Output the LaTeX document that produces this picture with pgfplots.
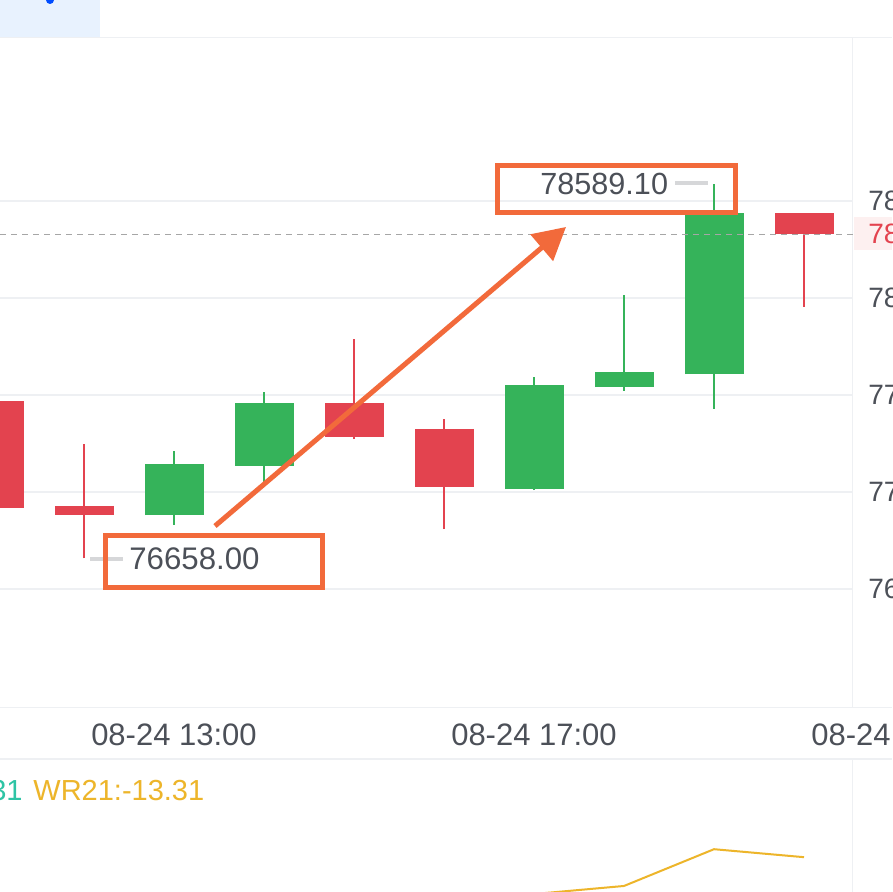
\documentclass[border=0pt]{standalone}
\usepackage{pgfplots}
\pgfplotsset{compat=1.18}
\usetikzlibrary{arrows.meta}
\usepackage{fontspec}
\setmainfont{Liberation Sans}
\definecolor{cr}{HTML}{E3434F}
\definecolor{cg}{HTML}{35B35A}
\definecolor{co}{HTML}{F26A3B}
\definecolor{txt}{HTML}{4C5058}
\definecolor{gridc}{HTML}{EEF0F3}
\definecolor{wry}{HTML}{EDB52A}
\definecolor{cteal}{HTML}{2EC4A5}
\definecolor{tabbg}{HTML}{E8F2FE}
\definecolor{pinkbg}{HTML}{FDF0F0}
\definecolor{dashg}{HTML}{D6D7D9}
% \candle{index}{open}{high}{low}{close}{colour}
\newcommand\candle[6]{%
  \addplot[#6, line width=1pt] coordinates {(#1,#4) (#1,#3)};
  \addplot[#6, line width=29.5pt] coordinates {(#1,#2) (#1,#5)};
}
\begin{document}
\begin{tikzpicture}
\clip (0pt,0pt) rectangle (446pt,-446pt);
\fill[white] (0pt,0pt) rectangle (446pt,-446pt);
% background furniture (pixel coordinates)
\begin{scope}[x=0.5pt,y=-0.5pt]
  \fill[tabbg] (0,0) rectangle (100,37);
  \fill[blue!70!cyan] (50,0) circle (4);
  \draw[gridc, line width=0.6pt] (0,37.5) -- (892,37.5);
  \draw[gridc, line width=0.6pt] (0,707.5) -- (892,707.5);
  \draw[gridc, line width=0.6pt] (0,759) -- (892,759);
  \draw[gridc, line width=0.6pt] (852.5,38) -- (852.5,707);
  \draw[gridc, line width=0.6pt] (852.5,760) -- (852.5,892);
  \fill[pinkbg] (854,217) rectangle (892,250);
\end{scope}
% main candlestick axis
\begin{axis}[
  at={(0pt,-19pt)}, anchor=north west,
  scale only axis, width=426.5pt, height=335pt,
  xmin=0.06667, xmax=9.5444, ymin=75886.6, ymax=79340.2,
  clip=false,
  axis line style={draw=none},
  major tick length=0pt,
  xtick=\empty,
  scaled y ticks=false,
  ytick={76500,77000,77500,78000,78500},
  yticklabels={76500.00,77000.00,77500.00,78000.00,78500.00},
  yticklabel pos=right,
  yticklabel style={anchor=west, inner sep=0pt, xshift=7.5pt, text=txt, font=\fontsize{14}{16}\selectfont},
  ymajorgrids, grid style={gridc, line width=0.6pt},
]
\candle{0}{77469}{77560}{76850}{76918}{cr}
\candle{1}{76928}{77247}{76658}{76881}{cr}
\candle{2}{76881}{77211}{76830}{77142}{cg}
\candle{3}{77136}{77515}{77052}{77459}{cg}
\candle{4}{77459}{77789}{77273}{77284}{cr}
\candle{5}{77325}{77376}{76809}{77026}{cr}
\candle{6}{77015}{77593}{77010}{77552}{cg}
\candle{7}{77541}{78015}{77521}{77619}{cg}
\candle{8}{77608}{78589.1}{77428}{78438}{cg}
\candle{9}{78438}{78438}{77954}{78330}{cr}
% current price line
\draw[gray!70, line width=0.4pt, dash pattern=on 3pt off 2.5pt] (axis cs:0.06667,78330) -- (axis cs:9.5444,78330);
\node[anchor=west, inner sep=0pt, text=cr, font=\fontsize{14}{16}\selectfont, xshift=7.5pt] at (axis cs:9.5444,78330) {78330.00};
\end{axis}
% indicator panel
\begin{axis}[
  at={(0pt,-380pt)}, anchor=north west,
  scale only axis, width=426.5pt, height=66pt,
  xmin=0.06667, xmax=9.5444, ymin=-37.5, ymax=54.2,
  clip=false, hide axis,
]
\addplot[wry, line width=1pt] coordinates {(5,-72) (6,-38.9) (7,-33.3) (8,-7.76) (9,-13.31)};
\end{axis}
% annotations (pixel coordinates)
\begin{scope}[x=0.5pt,y=-0.5pt]
  \node[text=txt, font=\fontsize{15.5}{17}\selectfont] at (174,735) {08-24 13:00};
  \node[text=txt, font=\fontsize{15.5}{17}\selectfont] at (534,735) {08-24 17:00};
  \node[text=txt, font=\fontsize{15.5}{17}\selectfont] at (894,735) {08-24 21:00};
  \node[anchor=east, inner sep=0pt, text=cteal, font=\fontsize{14.5}{16}\selectfont] at (23,791) {31};
  \node[anchor=west, inner sep=0pt, text=wry, font=\fontsize{14.5}{16}\selectfont] at (33,791) {WR21:-13.31};
  % high / low marks
  \draw[dashg, line width=2pt] (675,183) -- (708,183);
  \draw[dashg, line width=2pt] (90,559) -- (123,559);
  \node[anchor=west, inner sep=0pt, text=txt, font=\fontsize{15.3}{17}\selectfont] at (540,184) {78589.10};
  \node[anchor=west, inner sep=0pt, text=txt, font=\fontsize{15.6}{17}\selectfont] at (129,559) {76658.00};
  % boxes
  \draw[co, line width=2.5pt] (497.5,165.5) rectangle (735.5,212.5);
  \draw[co, line width=2.5pt] (105.5,535.5) rectangle (322.5,587.5);
  % arrow
  \draw[co, line width=2.5pt, -{Triangle[length=16pt, width=17pt]}] (215,526) -- (566,227);
\end{scope}
\end{tikzpicture}
\end{document}
